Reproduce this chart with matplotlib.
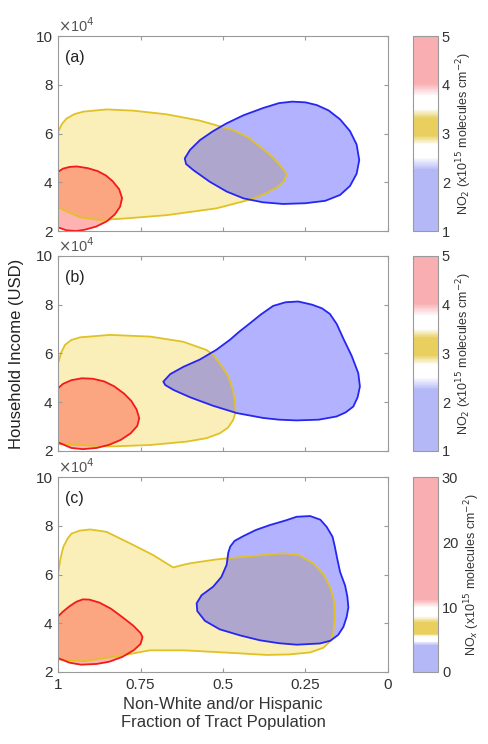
import matplotlib
matplotlib.use("Agg")
import matplotlib.pyplot as plt
from matplotlib.patches import Polygon
from matplotlib.colors import LinearSegmentedColormap
import matplotlib as mpl

plt.rcParams['font.family'] = ['Liberation Sans', 'DejaVu Sans']

# contour outlines: (fraction non-white, income in 1e4 USD)
red_a = [(1.0, 4.43), (0.985, 4.56), (0.965, 4.63), (0.943, 4.65), (0.91, 4.58), (0.88, 4.46),
         (0.855, 4.28), (0.835, 4.05), (0.815, 3.72), (0.806, 3.35), (0.812, 3.00), (0.828, 2.68),
         (0.852, 2.40), (0.885, 2.18), (0.92, 2.05), (0.945, 2.0), (0.975, 2.03), (1.0, 2.15)]
yellow_a = [(1.0, 6.07), (0.988, 6.40), (0.974, 6.62), (0.95, 6.80), (0.923, 6.90), (0.853, 6.99),
            (0.772, 6.94), (0.671, 6.79), (0.570, 6.53), (0.469, 6.14), (0.425, 5.85), (0.388, 5.46),
            (0.355, 5.10), (0.328, 4.71), (0.312, 4.45), (0.308, 4.30), (0.315, 4.05), (0.335, 3.80),
            (0.370, 3.55), (0.409, 3.32), (0.520, 2.93), (0.671, 2.65), (0.792, 2.52), (0.873, 2.45),
            (0.933, 2.56), (0.984, 2.86), (1.0, 3.0)]
blue_a = [(0.616, 4.98), (0.600, 5.33), (0.570, 5.73), (0.530, 6.10), (0.489, 6.42), (0.438, 6.75),
          (0.378, 7.05), (0.330, 7.25), (0.290, 7.31), (0.250, 7.28), (0.216, 7.17), (0.180, 6.95),
          (0.145, 6.58), (0.115, 6.10), (0.095, 5.55), (0.087, 4.91), (0.095, 4.35), (0.115, 3.85),
          (0.145, 3.48), (0.190, 3.24), (0.250, 3.14), (0.318, 3.11), (0.380, 3.18), (0.438, 3.34),
          (0.489, 3.62), (0.540, 4.02), (0.590, 4.50), (0.612, 4.75)]

red_b = [(1.0, 4.57), (0.985, 4.75), (0.96, 4.90), (0.928, 4.98), (0.895, 4.96), (0.86, 4.85),
         (0.83, 4.65), (0.80, 4.35), (0.778, 4.05), (0.762, 3.70), (0.754, 3.34), (0.760, 3.02),
         (0.780, 2.72), (0.810, 2.45), (0.845, 2.25), (0.883, 2.12), (0.925, 2.07), (0.960, 2.12),
         (1.0, 2.35)]
yellow_b = [(1.0, 5.60), (0.99, 6.05), (0.979, 6.35), (0.96, 6.55), (0.933, 6.66), (0.843, 6.76),
            (0.721, 6.69), (0.621, 6.48), (0.550, 6.14), (0.530, 5.95), (0.500, 5.40), (0.484, 5.05),
            (0.470, 4.50), (0.464, 4.02), (0.462, 3.60), (0.469, 3.27), (0.485, 2.95), (0.510, 2.72),
            (0.550, 2.52), (0.610, 2.38), (0.721, 2.24), (0.843, 2.18), (1.0, 2.28)]
blue_b = [(0.681, 4.84), (0.660, 5.15), (0.620, 5.45), (0.570, 5.75), (0.520, 6.15), (0.479, 6.56),
          (0.450, 6.90), (0.418, 7.24), (0.385, 7.60), (0.348, 7.95), (0.310, 8.10), (0.272, 8.13),
          (0.230, 8.00), (0.200, 7.85), (0.176, 7.62), (0.155, 7.20), (0.135, 6.60), (0.110, 5.90),
          (0.090, 5.19), (0.085, 4.64), (0.092, 4.20), (0.105, 3.82), (0.128, 3.58), (0.156, 3.41),
          (0.210, 3.28), (0.277, 3.25), (0.330, 3.28), (0.378, 3.35), (0.458, 3.55), (0.530, 3.85),
          (0.600, 4.20), (0.650, 4.50), (0.675, 4.70)]

red_c = [(1.0, 4.28), (0.985, 4.48), (0.965, 4.70), (0.945, 4.88), (0.925, 4.98), (0.905, 4.97),
         (0.875, 4.85), (0.840, 4.60), (0.805, 4.25), (0.772, 3.90), (0.750, 3.60), (0.744, 3.43),
         (0.750, 3.15), (0.770, 2.90), (0.805, 2.62), (0.845, 2.42), (0.883, 2.33), (0.930, 2.30),
         (0.965, 2.38), (1.0, 2.57)]
yellow_c = [(1.0, 6.05), (0.992, 6.70), (0.984, 7.14), (0.970, 7.50), (0.959, 7.68), (0.935, 7.80),
            (0.903, 7.85), (0.853, 7.75), (0.782, 7.28), (0.712, 6.80), (0.651, 6.29), (0.620, 6.40),
            (0.600, 6.46), (0.520, 6.62), (0.419, 6.75), (0.317, 6.87), (0.270, 6.80), (0.226, 6.45),
            (0.195, 6.00), (0.176, 5.50), (0.163, 4.90), (0.161, 4.27), (0.165, 3.70), (0.171, 3.32),
            (0.195, 3.00), (0.236, 2.80), (0.300, 2.72), (0.368, 2.70), (0.469, 2.78), (0.621, 2.89),
            (0.721, 2.89), (0.822, 2.64), (0.923, 2.44), (1.0, 2.51)]
blue_c = [(0.580, 4.82), (0.565, 5.15), (0.530, 5.50), (0.505, 5.90), (0.489, 6.40), (0.484, 6.90),
          (0.478, 7.15), (0.465, 7.38), (0.438, 7.58), (0.400, 7.83), (0.358, 8.03), (0.310, 8.22),
          (0.277, 8.37), (0.236, 8.40), (0.205, 8.25), (0.186, 7.96), (0.168, 7.55), (0.161, 7.14),
          (0.153, 6.60), (0.145, 6.10), (0.130, 5.55), (0.123, 5.09), (0.120, 4.65), (0.125, 4.27),
          (0.135, 3.85), (0.151, 3.52), (0.175, 3.28), (0.206, 3.17), (0.277, 3.12), (0.330, 3.18),
          (0.388, 3.30), (0.448, 3.50), (0.510, 3.75), (0.555, 4.10), (0.578, 4.50)]

panel_labels = ["(a)", "(b)", "(c)"]
cbar_ranges = [(1, 5), (1, 5), (0, 30)]
cbar_ticks = [[1, 2, 3, 4, 5], [1, 2, 3, 4, 5], [0, 10, 20, 30]]
cbar_labels = ["NO$_2$ (x10$^{15}$ molecules cm$^{-2}$)",
               "NO$_2$ (x10$^{15}$ molecules cm$^{-2}$)",
               "NO$_x$ (x10$^{15}$ molecules cm$^{-2}$)"]
# band edges of the colour scale: blue top, yellow bottom, yellow top, red bottom
cbar_bands = [(2.38, 2.9, 3.38, 3.9), (2.38, 2.9, 3.38, 3.9), (4.4, 5.7, 7.9, 10.5)]
x_ticks = [1, 0.75, 0.5, 0.25, 0]
x_ticklabels = ["1", "0.75", "0.5", "0.25", "0"]
y_ticks = [2, 4, 6, 8, 10]

blobs = [(red_a, yellow_a, blue_a), (red_b, yellow_b, blue_b), (red_c, yellow_c, blue_c)]

c_red, c_yel, c_blue = (1.0, 0.0, 0.0), (0.95, 0.80, 0.10), (0.0, 0.0, 1.0)
e_red, e_yel, e_blue = (0.95, 0.1, 0.1), (0.88, 0.76, 0.15), (0.15, 0.15, 0.95)
cb_red, cb_yel, cb_blue, white = "#f9aeb2", "#e8cf5e", "#b4b8f7", "#ffffff"
gray = "#9a9a9a"

fig = plt.figure(figsize=(4.88, 7.44), dpi=100)
bottoms = [0.6895, 0.394, 0.0968]

for i in range(3):
    ax = fig.add_axes([0.119, bottoms[i], 0.676, 0.262])
    red, yel, blue = blobs[i]
    for pts, col in [(yel, c_yel), (blue, c_blue), (red, c_red)]:
        ax.add_patch(Polygon(pts, closed=True, facecolor=col, alpha=0.3, edgecolor="none"))
    for pts, col in [(yel, e_yel), (blue, e_blue), (red, e_red)]:
        ax.add_patch(Polygon(pts, closed=True, facecolor="none", edgecolor=col, lw=1.3,
                             joinstyle="round"))
    ax.set_xlim(1, 0)
    ax.set_ylim(2, 10)
    ax.set_xticks(x_ticks)
    ax.set_yticks(y_ticks)
    ax.set_yticklabels([str(v) for v in y_ticks], fontsize=11, color="#333333")
    if i == 2:
        ax.set_xticklabels(x_ticklabels, fontsize=11, color="#333333")
        ax.set_xlabel("Non-White and/or Hispanic\nFraction of Tract Population", fontsize=12,
                      color="#333333", linespacing=1.25)
    else:
        ax.set_xticklabels([])
    ax.tick_params(direction="in", length=3, color=gray, top=True, right=True, pad=4)
    for s in ax.spines.values():
        s.set_color(gray)
    ax.text(0.02, 0.93, panel_labels[i], transform=ax.transAxes, fontsize=11.5, va="top",
            color="#222222")
    ax.text(0.0, 1.005, r"$\times$10$^4$", transform=ax.transAxes, fontsize=10.5, va="bottom",
            color="#555555")
    if i == 1:
        ax.set_ylabel("Household Income (USD)", fontsize=12, color="#222222", labelpad=8)

    lo, hi = cbar_ranges[i]
    b1, b2, b3, b4 = cbar_bands[i]
    f = lambda v: (v - lo) / (hi - lo)
    gap1 = (b2 - b1) * 0.25
    gap2 = (b4 - b3) * 0.25
    cmap = LinearSegmentedColormap.from_list("nox", [
        (0.0, cb_blue), (f(b1 - gap1), cb_blue), (f(b1 + gap1), white), (f(b2 - gap1), white),
        (f(b2 + gap1 * 0.5), cb_yel), (f(b3 - gap2 * 0.5), cb_yel), (f(b3 + gap2), white),
        (f(b4 - gap2), white), (f(b4 + gap2), cb_red), (1.0, cb_red)])
    cax = fig.add_axes([0.846, bottoms[i], 0.051, 0.262])
    cb = mpl.colorbar.ColorbarBase(cax, cmap=cmap, norm=mpl.colors.Normalize(lo, hi),
                                   ticks=cbar_ticks[i])
    cb.outline.set_edgecolor(gray)
    cax.tick_params(length=0, labelsize=10.5, labelcolor="#333333", pad=3)
    cb.set_label(cbar_labels[i], fontsize=9, color="#333333", labelpad=3)

fig.savefig("out.png", dpi=100)
